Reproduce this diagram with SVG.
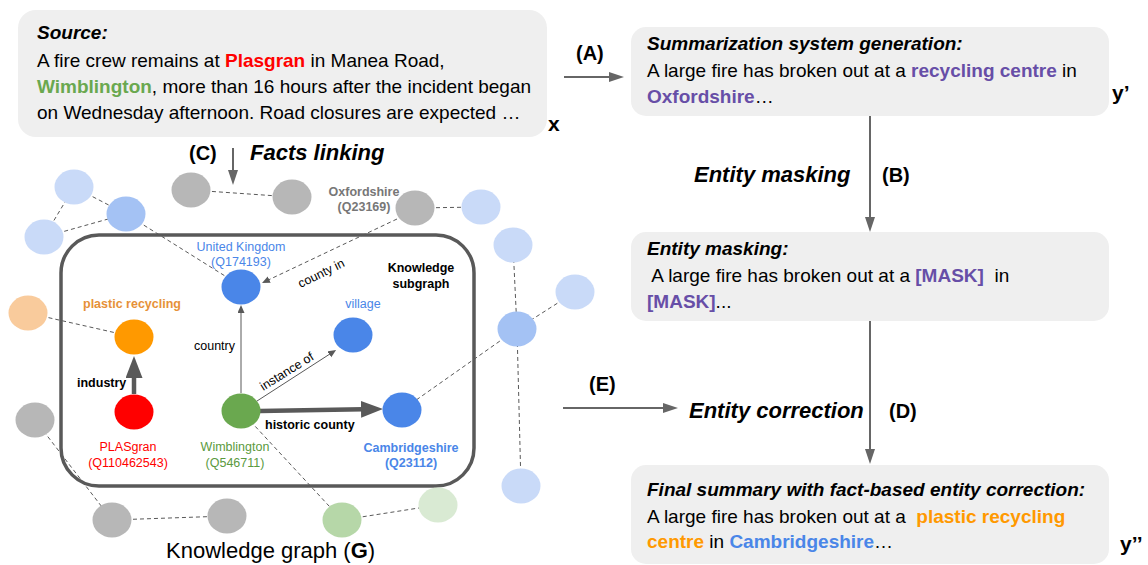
<svg xmlns="http://www.w3.org/2000/svg" width="1148" height="565" viewBox="0 0 1148 565">
<style>
text{font-family:"Liberation Sans",Arial,sans-serif;fill:#000}
.body{font-size:19px}
.bi{font-weight:bold;font-style:italic}
.b{font-weight:bold}
.box{fill:#efefef}
.step{font-size:22px;font-weight:bold;font-style:italic}
.tag{font-size:20px;font-weight:bold}
.var{font-size:21px;font-weight:bold}
.lbl{font-size:12.5px}
.mid{text-anchor:middle}
.dash{stroke:#595959;stroke-width:1;stroke-dasharray:4 3;fill:none}
.thin{stroke:#595959;stroke-width:1;fill:none}
.thick{stroke:#595959;stroke-width:4.5;fill:none}
.arr{stroke:#666;stroke-width:2;fill:none}
.purple{fill:#674ea7;font-weight:bold}
.orange{fill:#ff9900;font-weight:bold}
.blue{fill:#4a86e8;font-weight:bold}
.lb{fill:#c9daf8}.mb{fill:#a4c2f4}.db{fill:#4a86e8}.gr{fill:#b7b7b7}
.or{fill:#ff9900}.lor{fill:#f9cb9c}.red{fill:#ff0000}.gn{fill:#6aa84f}.lgn{fill:#b6d7a8}.llgn{fill:#d9ead3}
</style>
<defs>
<marker id="mArr" markerUnits="userSpaceOnUse" markerWidth="16" markerHeight="12" refX="2" refY="5" orient="auto"><path d="M0,0 L15,5 L0,10 z" fill="#666"/></marker>
<marker id="mThin" markerUnits="userSpaceOnUse" markerWidth="9" markerHeight="8" refX="1" refY="3.5" orient="auto"><path d="M0,0 L8,3.5 L0,7 z" fill="#595959"/></marker>
<marker id="mThick" markerUnits="userSpaceOnUse" markerWidth="23" markerHeight="18" refX="2" refY="8.5" orient="auto"><path d="M0,0 L22,8.5 L0,17 z" fill="#595959"/></marker>
</defs>

<rect width="1148" height="565" fill="#fff"/>

<!-- text boxes -->
<g id="source">
<rect class="box" x="18" y="10" width="529" height="127" rx="18"/>
<text class="body bi" x="37" y="39">Source:</text>
<text class="body" x="37" y="67">A fire crew remains at <tspan class="b" fill="#ff0000">Plasgran</tspan> in Manea Road,</text>
<text class="body" x="37" y="93"><tspan class="b" fill="#6aa84f">Wimblington</tspan>, more than 16 hours after the incident began</text>
<text class="body" x="37" y="119">on Wednesday afternoon. Road closures are expected …</text>
<text class="var" x="548" y="131">x</text>
</g>

<g id="summary">
<rect class="box" x="631" y="27" width="478" height="89" rx="15"/>
<text class="body bi" x="647" y="50">Summarization system generation:</text>
<text class="body" x="647" y="77">A large fire has broken out at a <tspan class="purple">recycling centre</tspan> in</text>
<text class="body" x="647" y="103"><tspan class="purple">Oxfordshire</tspan>…</text>
<text class="var" x="1112" y="100">y’</text>
</g>

<g id="masked">
<rect class="box" x="631" y="232" width="478" height="89" rx="15"/>
<text class="body bi" x="647" y="255">Entity masking:</text>
<text class="body" x="647" y="282" xml:space="preserve"> A large fire has broken out at a <tspan class="purple">[MASK]</tspan>  in</text>
<text class="body" x="647" y="308"><tspan class="purple">[MASK]</tspan>...</text>
</g>

<g id="final">
<rect class="box" x="631" y="465" width="478" height="99" rx="15"/>
<text class="body bi" x="647" y="496">Final summary with fact-based entity correction:</text>
<text class="body" x="647" y="523" xml:space="preserve">A large fire has broken out at a  <tspan class="orange">plastic recycling</tspan></text>
<text class="body" x="647" y="548"><tspan class="orange">centre</tspan> in <tspan class="blue">Cambridgeshire</tspan>…</text>
<text class="var" x="1120" y="551">y’’</text>
</g>

<!-- step labels -->
<g id="labels">
<text class="tag" x="576" y="60">(A)</text>
<text class="step" x="694" y="182">Entity masking</text>
<text class="tag" x="882" y="182">(B)</text>
<text class="tag" x="189" y="160">(C)</text>
<text class="step" x="250" y="160">Facts linking</text>
<text class="tag" x="589" y="391">(E)</text>
<text class="step" x="689" y="418">Entity correction</text>
<text class="tag" x="889" y="418">(D)</text>
<text x="166" y="558" font-size="22">Knowledge graph (<tspan class="b">G</tspan>)</text>
</g>

<!-- subgraph frame -->
<g id="subgraph">
<rect x="61" y="235" width="413" height="251" rx="38" fill="none" stroke="#595959" stroke-width="3.5"/>
<text class="lbl b mid" x="421" y="272">Knowledge</text>
<text class="lbl b mid" x="421" y="288">subgraph</text>
</g>

<!-- connectors -->
<g id="connectors">
<line class="arr" x1="564" y1="77" x2="611" y2="77" marker-end="url(#mArr)"/>
<line class="arr" x1="870" y1="116" x2="870" y2="219" marker-end="url(#mArr)"/>
<line class="arr" x1="870" y1="321" x2="870" y2="451" marker-end="url(#mArr)"/>
<line class="arr" x1="563" y1="408" x2="665" y2="408" marker-end="url(#mArr)"/>
<line class="arr" x1="233" y1="148" x2="233" y2="172" marker-end="url(#mArr)"/>

<line class="dash" x1="74" y1="187" x2="44" y2="237"/>
<line class="dash" x1="74" y1="187" x2="126" y2="214"/>
<line class="dash" x1="44" y1="237" x2="126" y2="214"/>
<line class="dash" x1="126" y1="214" x2="241" y2="286"/>
<line class="dash" x1="191" y1="190" x2="292" y2="197"/>
<line class="dash" x1="415" y1="208" x2="481" y2="207"/>
<line class="dash" x1="513" y1="245" x2="517" y2="329"/>
<line class="dash" x1="575" y1="292" x2="517" y2="329"/>
<line class="dash" x1="517" y1="329" x2="402" y2="410"/>
<line class="dash" x1="517" y1="329" x2="521" y2="486"/>
<line class="dash" x1="28" y1="313" x2="134" y2="337"/>
<line class="dash" x1="35" y1="420" x2="112" y2="520"/>
<line class="dash" x1="112" y1="520" x2="227" y2="516"/>
<line class="dash" x1="241" y1="411" x2="342" y2="520"/>
<line class="dash" x1="342" y1="520" x2="438" y2="505"/>

<line class="dash" x1="397" y1="219" x2="268.3" y2="280" marker-end="url(#mThin)"/>
<line class="thin" x1="241" y1="393" x2="241" y2="312" marker-end="url(#mThin)"/>
<line class="thin" x1="257" y1="401" x2="330.2" y2="353.8" marker-end="url(#mThin)"/>
<line class="thick" x1="134" y1="394" x2="134" y2="376" marker-end="url(#mThick)"/>
<line class="thick" x1="260" y1="411" x2="363" y2="409.3" marker-end="url(#mThick)"/>

<text class="lbl" transform="translate(323,277) rotate(-26)" text-anchor="middle">county in</text>
<text class="lbl" x="194" y="350">country</text>
<text class="lbl" transform="translate(289,375) rotate(-32)" text-anchor="middle">instance of</text>
<text class="lbl b" x="77" y="387">industry</text>
<text class="lbl b" x="265" y="429">historic county</text>
</g>

<!-- knowledge-graph nodes -->
<g id="n-lb1"><ellipse class="lb" cx="74" cy="187" rx="19.5" ry="17.5"/></g>
<g id="n-lb2"><ellipse class="lb" cx="44" cy="237" rx="19.5" ry="17.5"/></g>
<g id="n-mb1"><ellipse class="mb" cx="126" cy="214" rx="19.5" ry="17.5"/></g>
<g id="n-gr1"><ellipse class="gr" cx="191" cy="190" rx="19.5" ry="17.5"/></g>
<g id="n-gr2"><ellipse class="gr" cx="292" cy="197" rx="19.5" ry="17.5"/></g>
<g id="n-oxfordshire">
<ellipse class="gr" cx="415" cy="208" rx="19.5" ry="17.5"/>
<text class="lbl b mid" x="364" y="196" style="fill:#777">Oxfordshire</text>
<text class="lbl b mid" x="364" y="211" style="fill:#777">(Q23169)</text>
</g>
<g id="n-lb3"><ellipse class="lb" cx="481" cy="207" rx="19.5" ry="17.5"/></g>
<g id="n-lb4"><ellipse class="lb" cx="513" cy="245" rx="19.5" ry="17.5"/></g>
<g id="n-lb5"><ellipse class="lb" cx="575" cy="292" rx="19.5" ry="17.5"/></g>
<g id="n-mb2"><ellipse class="mb" cx="517" cy="329" rx="19.5" ry="17.5"/></g>
<g id="n-lb6"><ellipse class="lb" cx="521" cy="486" rx="19.5" ry="17.5"/></g>
<g id="n-lor"><ellipse class="lor" cx="28" cy="313" rx="19.5" ry="17.5"/></g>
<g id="n-gr3"><ellipse class="gr" cx="35" cy="420" rx="19.5" ry="17.5"/></g>
<g id="n-gr4"><ellipse class="gr" cx="112" cy="520" rx="19.5" ry="17.5"/></g>
<g id="n-gr5"><ellipse class="gr" cx="227" cy="516" rx="19.5" ry="17.5"/></g>
<g id="n-lgn"><ellipse class="lgn" cx="342" cy="520" rx="19.5" ry="17.5"/></g>
<g id="n-llgn"><ellipse class="llgn" cx="438" cy="505" rx="19.5" ry="17.5"/></g>

<g id="n-uk">
<ellipse class="db" cx="241" cy="287" rx="19.5" ry="17.5"/>
<text class="lbl mid" x="241" y="251" style="fill:#4a86e8">United Kingdom</text>
<text class="lbl mid" x="241" y="266" style="fill:#4a86e8">(Q174193)</text>
</g>
<g id="n-plastic">
<ellipse class="or" cx="134" cy="337" rx="19.5" ry="17.5"/>
<text class="lbl b mid" x="132" y="308" style="fill:#e69138">plastic recycling</text>
</g>
<g id="n-village">
<ellipse class="db" cx="353" cy="335" rx="19.5" ry="17.5"/>
<text class="lbl mid" x="363" y="308" style="fill:#4a86e8">village</text>
</g>
<g id="n-plasgran">
<ellipse class="red" cx="134" cy="412" rx="19.5" ry="17.5"/>
<text class="lbl mid" x="128" y="451" style="fill:#ff0000">PLASgran</text>
<text class="lbl mid" x="128" y="467" style="fill:#ff0000">(Q110462543)</text>
</g>
<g id="n-wimblington">
<ellipse class="gn" cx="241" cy="411" rx="19.5" ry="17.5"/>
<text class="lbl mid" x="235" y="451" style="fill:#5b9a40">Wimblington</text>
<text class="lbl mid" x="235" y="467" style="fill:#5b9a40">(Q546711)</text>
</g>
<g id="n-cambridgeshire">
<ellipse class="db" cx="402" cy="410" rx="19.5" ry="17.5"/>
<text class="lbl b mid" x="411" y="452" style="fill:#4a86e8">Cambridgeshire</text>
<text class="lbl b mid" x="411" y="467" style="fill:#4a86e8">(Q23112)</text>
</g>
</svg>
